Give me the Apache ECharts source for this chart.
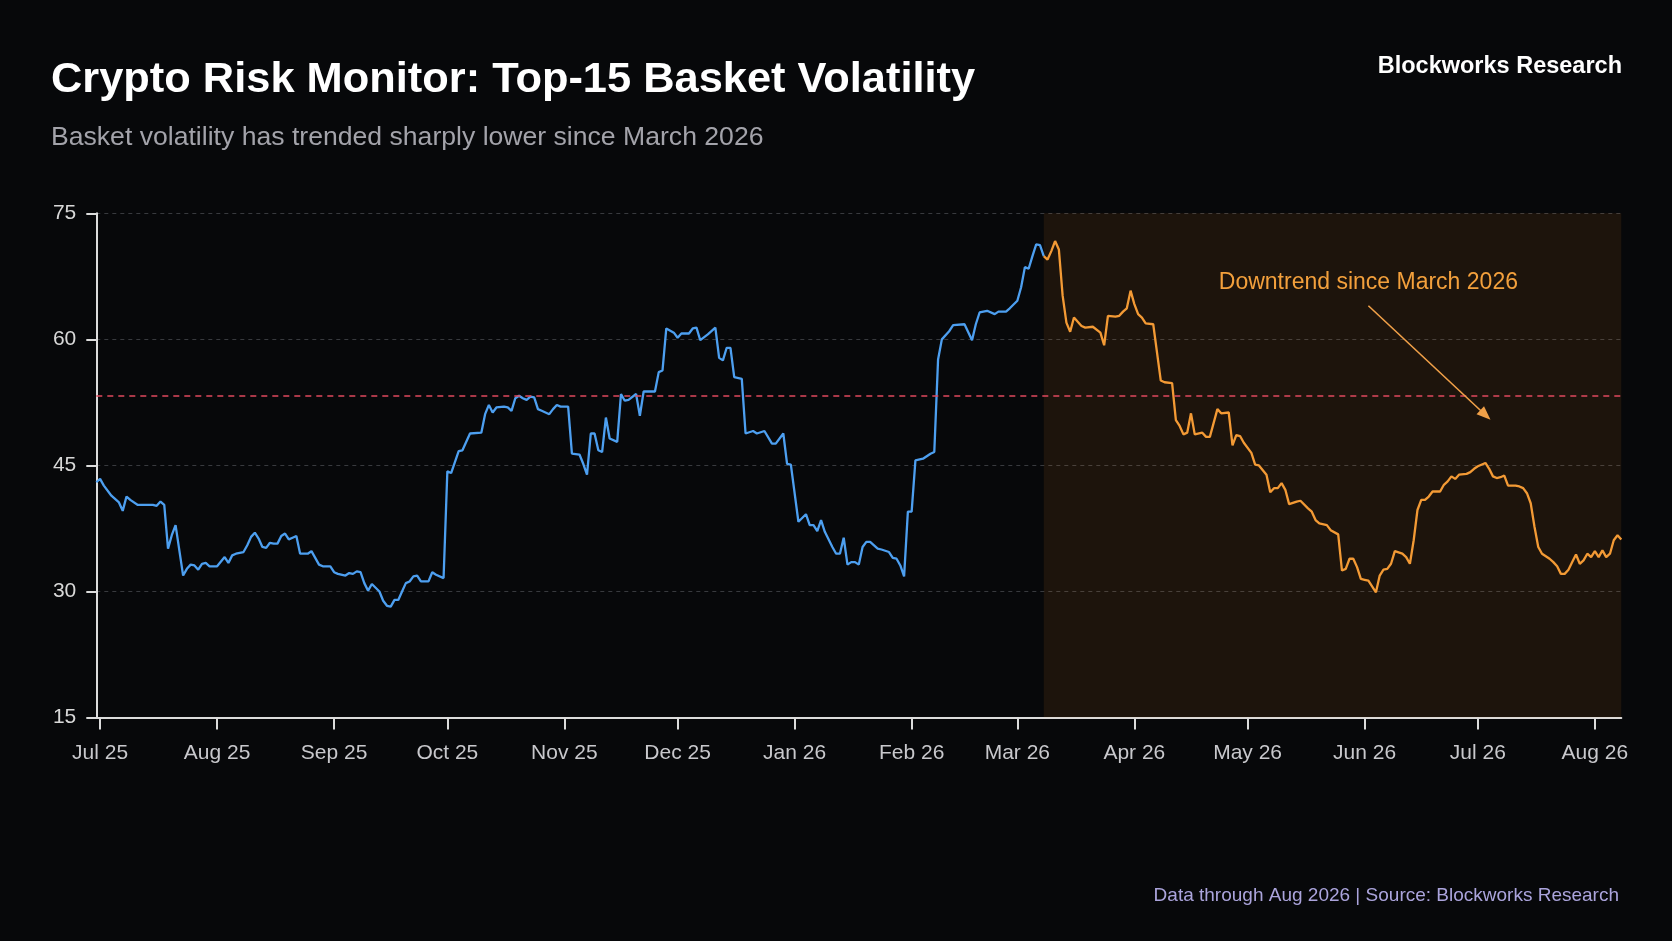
<!DOCTYPE html>
<html>
<head>
<meta charset="utf-8">
<script src="https://cdn.jsdelivr.net/npm/echarts@6/dist/echarts.min.js"></script>
<style>
  html, body { margin: 0; padding: 0; background: #07080a; }
  #chart { width: 1672px; height: 941px; }
</style>
</head>
<body>
<div id="chart"></div>
<script>
// ---------------- DATA ----------------
const monthTicks = ['2025-07-01','2025-08-01','2025-09-01','2025-10-01','2025-11-01','2025-12-01','2026-01-01','2026-02-01','2026-03-01','2026-04-01','2026-05-01','2026-06-01','2026-07-01','2026-08-01'];
const monthLabels = ['Jul 25','Aug 25','Sep 25','Oct 25','Nov 25','Dec 25','Jan 26','Feb 26','Mar 26','Apr 26','May 26','Jun 26','Jul 26','Aug 26'];
const yTicks = [15, 30, 45, 60, 75];

const dates = [
// Jul 2025
'2025-06-30','2025-07-01','2025-07-02','2025-07-04','2025-07-06','2025-07-07','2025-07-08','2025-07-09','2025-07-11','2025-07-13',
'2025-07-15','2025-07-16','2025-07-17','2025-07-18','2025-07-19','2025-07-20','2025-07-21','2025-07-23','2025-07-24','2025-07-25',
'2025-07-26','2025-07-27','2025-07-28','2025-07-29','2025-07-30',
// Aug 2025
'2025-08-01','2025-08-03','2025-08-04','2025-08-05','2025-08-06','2025-08-08','2025-08-09','2025-08-10','2025-08-11','2025-08-12',
'2025-08-13','2025-08-14','2025-08-15','2025-08-16','2025-08-17','2025-08-18','2025-08-19','2025-08-20','2025-08-21','2025-08-22',
'2025-08-23','2025-08-25','2025-08-26','2025-08-27','2025-08-28','2025-08-29',
// Sep 2025
'2025-08-31','2025-09-01','2025-09-02','2025-09-04','2025-09-05','2025-09-06','2025-09-07','2025-09-08','2025-09-09','2025-09-10',
'2025-09-11','2025-09-13','2025-09-14','2025-09-15','2025-09-16','2025-09-17','2025-09-18','2025-09-19','2025-09-20','2025-09-21',
'2025-09-22','2025-09-23','2025-09-24','2025-09-26','2025-09-27','2025-09-28',
// Oct 2025
'2025-09-30','2025-10-01','2025-10-02','2025-10-03','2025-10-04','2025-10-05','2025-10-07','2025-10-10','2025-10-11','2025-10-12',
'2025-10-13','2025-10-14','2025-10-16','2025-10-17','2025-10-18','2025-10-19','2025-10-20','2025-10-21','2025-10-22','2025-10-23',
'2025-10-24','2025-10-25','2025-10-26','2025-10-28','2025-10-29',
// Nov 2025
'2025-10-30','2025-10-31','2025-11-02','2025-11-03','2025-11-05','2025-11-06','2025-11-07','2025-11-08','2025-11-09','2025-11-10',
'2025-11-11','2025-11-12','2025-11-13','2025-11-15','2025-11-16','2025-11-17','2025-11-18','2025-11-20','2025-11-21','2025-11-22',
'2025-11-24','2025-11-25','2025-11-26','2025-11-27','2025-11-28',
// Dec 2025
'2025-11-30','2025-12-01','2025-12-02','2025-12-04','2025-12-05','2025-12-06','2025-12-07','2025-12-09','2025-12-11','2025-12-12',
'2025-12-13','2025-12-14','2025-12-15','2025-12-16','2025-12-18','2025-12-19','2025-12-21','2025-12-22','2025-12-24','2025-12-26',
'2025-12-27','2025-12-29',
// Jan 2026
'2025-12-30','2025-12-31','2026-01-02','2026-01-04','2026-01-05','2026-01-06','2026-01-07','2026-01-08','2026-01-09','2026-01-11',
'2026-01-12','2026-01-13','2026-01-14','2026-01-15','2026-01-16','2026-01-17','2026-01-18','2026-01-19','2026-01-20','2026-01-21',
'2026-01-23','2026-01-24','2026-01-26','2026-01-27','2026-01-28',
// Feb 2026
'2026-01-29','2026-01-30','2026-01-31','2026-02-01','2026-02-02','2026-02-04','2026-02-06','2026-02-07','2026-02-08','2026-02-09',
'2026-02-11','2026-02-12','2026-02-15','2026-02-17','2026-02-18','2026-02-19','2026-02-21','2026-02-23','2026-02-24','2026-02-26',
'2026-02-27',
// Mar 2026
'2026-03-01','2026-03-02','2026-03-03','2026-03-04','2026-03-05','2026-03-06','2026-03-07','2026-03-08','2026-03-09','2026-03-10',
'2026-03-11','2026-03-12','2026-03-13','2026-03-14','2026-03-15','2026-03-16','2026-03-17','2026-03-18','2026-03-19','2026-03-21',
'2026-03-23','2026-03-24','2026-03-25','2026-03-27','2026-03-28','2026-03-29','2026-03-30',
// Apr 2026
'2026-03-31','2026-04-01','2026-04-02','2026-04-03','2026-04-04','2026-04-06','2026-04-08','2026-04-09','2026-04-11','2026-04-12',
'2026-04-13','2026-04-14','2026-04-15','2026-04-16','2026-04-17','2026-04-19','2026-04-20','2026-04-21','2026-04-23','2026-04-24',
'2026-04-26','2026-04-27','2026-04-28','2026-04-29',
// May 2026
'2026-04-30','2026-05-02','2026-05-03','2026-05-04','2026-05-06','2026-05-07','2026-05-08','2026-05-09','2026-05-10','2026-05-11',
'2026-05-12','2026-05-14','2026-05-15','2026-05-17','2026-05-18','2026-05-19','2026-05-20','2026-05-22','2026-05-23','2026-05-25',
'2026-05-26','2026-05-27','2026-05-28','2026-05-29','2026-05-30',
// Jun 2026
'2026-05-31','2026-06-01','2026-06-02','2026-06-04','2026-06-05','2026-06-06','2026-06-07','2026-06-08','2026-06-09','2026-06-11',
'2026-06-12','2026-06-13','2026-06-14','2026-06-15','2026-06-16','2026-06-17','2026-06-18','2026-06-19','2026-06-21','2026-06-22',
'2026-06-23','2026-06-24','2026-06-25','2026-06-26','2026-06-28','2026-06-29',
// Jul 2026
'2026-06-30','2026-07-01','2026-07-03','2026-07-04','2026-07-05','2026-07-06','2026-07-07','2026-07-08','2026-07-09','2026-07-11',
'2026-07-12','2026-07-13','2026-07-14','2026-07-15','2026-07-16','2026-07-17','2026-07-18','2026-07-20','2026-07-21','2026-07-22',
'2026-07-23','2026-07-24','2026-07-25','2026-07-26','2026-07-27','2026-07-28','2026-07-29','2026-07-30',
// Aug 2026
'2026-07-31','2026-08-01','2026-08-02','2026-08-03','2026-08-04','2026-08-05','2026-08-06','2026-08-07','2026-08-08'
];

const volatility = [
// Jul 2025
43.0,43.4,42.6,41.4,40.6,39.6,41.3,40.9,40.3,40.3,
40.3,40.2,40.7,40.3,35.1,36.7,37.9,31.9,32.7,33.2,
33.1,32.6,33.3,33.4,33.0,
// Aug 2025
33.0,34.1,33.4,34.3,34.5,34.7,35.5,36.5,37.0,36.3,
35.3,35.2,35.8,35.7,35.7,36.6,36.9,36.2,36.4,36.6,
34.5,34.5,34.8,34.0,33.2,33.0,
// Sep 2025
33.0,32.3,32.1,31.9,32.2,32.1,32.4,32.3,31.0,30.1,
30.9,30.0,28.9,28.3,28.2,29.0,29.0,30.0,31.0,31.2,
31.8,31.9,31.2,31.2,32.3,32.0,
// Oct 2025
31.6,44.3,44.1,45.4,46.7,46.8,48.8,48.9,51.1,52.2,
51.3,51.9,52.0,51.9,51.5,53.0,53.3,53.0,52.8,53.2,
53.1,51.7,51.5,51.1,51.7,
// Nov 2025
52.2,52.0,52.0,46.4,46.3,45.2,43.9,48.8,48.8,46.8,
46.6,50.7,48.2,47.8,53.5,52.7,52.8,53.5,50.9,53.8,
53.8,53.8,56.1,56.3,61.3,
// Dec 2025
60.8,60.2,60.7,60.7,61.3,61.4,59.9,60.6,61.4,57.8,
57.5,59.0,59.0,55.5,55.3,48.8,49.1,48.8,49.1,47.6,
47.6,48.8,
// Jan 2026
45.2,45.1,38.3,39.2,37.9,37.9,37.2,38.5,37.1,35.3,
34.5,34.5,36.4,33.2,33.5,33.5,33.2,35.3,35.9,35.9,
35.1,35.0,34.7,34.0,33.9,
// Feb 2026
33.1,31.8,39.5,39.5,45.6,45.8,46.4,46.6,57.6,60.0,
61.0,61.7,61.8,59.9,61.8,63.2,63.4,63.0,63.3,63.3,
63.7,
// Mar 2026
64.6,66.2,68.6,68.4,69.9,71.3,71.2,69.9,69.5,70.5,
71.7,70.7,65.2,62.0,60.9,62.6,62.1,61.6,61.4,61.5,
60.8,59.3,62.8,62.7,62.8,63.3,63.7,
// Apr 2026
65.8,64.2,63.0,62.6,61.9,61.8,55.1,54.9,54.8,50.4,
49.7,48.7,48.9,51.2,48.7,48.9,48.4,48.4,51.7,51.2,
51.3,47.4,48.6,48.5,
// May 2026
47.7,46.5,45.1,45.0,43.9,41.8,42.3,42.3,42.9,42.1,
40.4,40.7,40.8,39.9,39.5,38.5,38.1,37.9,37.3,36.8,
32.5,32.7,33.9,33.9,32.9,
// Jun 2026
31.5,31.4,31.3,29.9,31.9,32.6,32.7,33.3,34.8,34.5,
34.1,33.3,36.1,39.7,40.9,40.9,41.3,41.9,41.9,42.7,
43.1,43.7,43.4,43.9,44.0,44.2,
// Jul 2026
44.6,44.9,45.3,44.6,43.7,43.5,43.6,43.8,42.6,42.6,
42.5,42.3,41.7,40.5,37.7,35.3,34.5,33.9,33.5,33.0,
32.1,32.1,32.6,33.5,34.4,33.3,33.7,34.5,
// Aug 2026
34.1,34.8,34.1,34.9,34.1,34.5,36.1,36.7,36.2
];

const downtrendStart = '2026-03-08';
const referenceLevel = 53.3;
const axisStartDate = '2025-06-30';
const axisEndDate = '2026-08-08';
const annotationText = 'Downtrend since March 2026';
const annotationTextAt = ['2026-06-02', 66.7];
const arrowFrom = ['2026-06-02', 64.0];
const arrowTo = ['2026-07-03', 51.0];

const titleText = 'Crypto Risk Monitor: Top-15 Basket Volatility';
const subtitleText = 'Basket volatility has trended sharply lower since March 2026';
const brandText = 'Blockworks Research';
const footerText = 'Data through Aug 2026 | Source: Blockworks Research';

// ---------------- BUILD ----------------
// dates -> day number (days since epoch), used on a linear value axis
function dayNum(s) {
  const [y, m, d] = s.split('-').map(Number);
  return Date.UTC(y, m - 1, d) / 86400000;
}

const splitDay = dayNum(downtrendStart);
const blueData = [], orangeData = [];
dates.forEach((d, i) => {
  const t = dayNum(d);
  if (t <= splitDay) blueData.push([t, volatility[i]]);
  if (t >= splitDay) orangeData.push([t, volatility[i]]);
});

const tickValues = monthTicks.map(dayNum);
const labelFor = {};
tickValues.forEach((t, i) => { labelFor[t] = monthLabels[i]; });

const FONT = "'Liberation Sans', Arial, Helvetica, sans-serif";

const chart = echarts.init(document.getElementById('chart'));
chart.setOption({
  backgroundColor: '#07080a',
  animation: false,
  textStyle: { fontFamily: FONT },
  graphic: [
    { type: 'text', left: 51, top: 59, style: { text: titleText, fill: '#ffffff', font: 'bold 43.4px ' + FONT } },
    { type: 'text', left: 51, top: 124, style: { text: subtitleText, fill: '#a3a3aa', font: '26.6px ' + FONT } },
    { type: 'text', right: 50, top: 55, style: { text: brandText, fill: '#ffffff', font: 'bold 23.5px ' + FONT } },
    { type: 'text', right: 53, top: 886, style: { text: footerText, fill: '#aba4dc', font: '19px ' + FONT } }
  ],
  grid: { left: 96.3, right: 50.7, top: 213.3, bottom: 223.4, containLabel: false },
  xAxis: {
    type: 'value',
    min: dayNum(axisStartDate),
    max: dayNum(axisEndDate),
    axisLine: { onZero: false, lineStyle: { color: '#dcdcdc', width: 2 } },
    axisTick: { show: true, length: 12, customValues: tickValues, lineStyle: { color: '#dcdcdc', width: 2 } },
    axisLabel: {
      customValues: tickValues,
      margin: 25,
      color: '#c8c8cc',
      fontSize: 21,
      fontFamily: FONT,
      formatter: v => labelFor[v] || ''
    },
    splitLine: { show: false }
  },
  yAxis: {
    type: 'value',
    min: yTicks[0],
    max: yTicks[yTicks.length - 1],
    interval: 15,
    axisLine: { show: true, onZero: false, lineStyle: { color: '#dcdcdc', width: 2 } },
    axisTick: { show: true, length: 10, lineStyle: { color: '#dcdcdc', width: 2 } },
    axisLabel: { margin: 20, color: '#d8d8d8', fontSize: 21, fontFamily: FONT },
    splitLine: { show: true, lineStyle: { color: '#383a3e', width: 1, type: [4, 4] } }
  },
  series: [
    {
      name: 'Pre',
      type: 'line',
      data: blueData,
      showSymbol: false,
      symbol: 'none',
      lineStyle: { color: '#4d9ff0', width: 2.3 },
      z: 3,
      markLine: {
        silent: true,
        symbol: ['none', 'none'],
        label: { show: false },
        lineStyle: { color: '#e0485e', width: 1.5, type: [6, 5] },
        data: [{ yAxis: referenceLevel }]
      }
    },
    {
      name: 'Downtrend',
      type: 'line',
      data: orangeData,
      showSymbol: false,
      symbol: 'none',
      lineStyle: { color: '#f39a35', width: 2.3 },
      z: 3,
      markArea: {
        silent: true,
        itemStyle: { color: 'rgba(255,140,30,0.09)' },
        data: [[{ xAxis: splitDay }, { xAxis: dayNum(axisEndDate) }]]
      },
      markLine: {
        silent: true,
        symbol: ['none', 'triangle'],
        symbolSize: [11, 14],
        label: { show: false },
        lineStyle: { color: '#f0a048', width: 1.6, type: 'solid' },
        data: [[
          { coord: [dayNum(arrowFrom[0]), arrowFrom[1]] },
          { coord: [dayNum(arrowTo[0]), arrowTo[1]] }
        ]]
      },
      markPoint: {
        silent: true,
        symbol: 'circle',
        symbolSize: 0,
        label: {
          show: true,
          position: 'inside',
          formatter: annotationText,
          color: '#f3a03c',
          fontSize: 23,
          fontFamily: FONT
        },
        data: [{ coord: [dayNum(annotationTextAt[0]), annotationTextAt[1]] }]
      }
    }
  ]
});
</script>
</body>
</html>
